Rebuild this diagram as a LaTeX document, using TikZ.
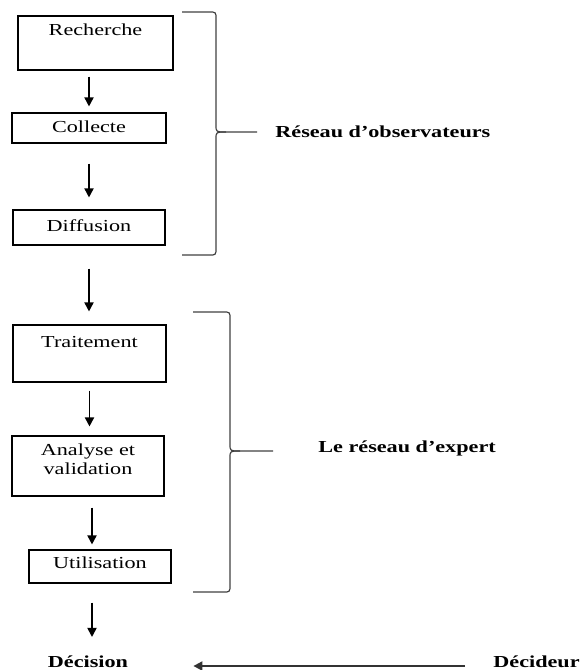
\documentclass[tikz,border=0pt]{standalone}
\usepackage{fontspec}
\setmainfont{Liberation Serif}[FakeStretch=1.32]
\usetikzlibrary{arrows.meta}
\newcommand{\sidebrace}[6]{%
  \draw[brc] (#1,#4) -- ({#2-7},#4) .. controls (#2,#4) .. (#2,{#4+7})
    -- (#2,{#5-7}) .. controls (#2,#5) .. ({#2+10},#5) -- (#3,#5);
  \draw[brc] (#1,#6) -- ({#2-7},#6) .. controls (#2,#6) .. (#2,{#6-7})
    -- (#2,{#5+7}) .. controls (#2,#5) .. ({#2+10},#5);}

\begin{document}
\begin{tikzpicture}[x=0.5pt,y=-0.5pt,
    font=\fontsize{8.4}{9.5}\selectfont,
    box/.style={draw,line width=0.6pt,align=center,text height=6pt,inner sep=0pt},
    lbl/.style={font=\fontsize{8.4}{9.5}\selectfont\bfseries,inner sep=1pt},
    arr/.style={-{Triangle[length=4.5pt,width=4.6pt]},line width=0.6pt},
    brc/.style={line width=0.6pt,draw=black!75}]
  \useasboundingbox (0,0) rectangle (581,670);
  \node[box,minimum width=77.5pt,minimum height=27pt,text depth=14pt] (rech) at (95.5,43) {Recherche};
  \node[box,minimum width=77pt,minimum height=15pt,text depth=2pt] (coll) at (89,128) {Collecte};
  \node[box,minimum width=76pt,minimum height=17.5pt,text depth=2.5pt] (diff) at (89,227.5) {Diffusion};
  \node[box,minimum width=76.5pt,minimum height=28.5pt,text depth=12.5pt] (trait) at (89.5,353.5) {Traitement};
  \node[box,minimum width=76pt,minimum height=30pt,text height=8pt,text depth=0pt] (anal) at (88,466) {Analyse et\\validation};
  \node[box,minimum width=71pt,minimum height=16.5pt,text depth=4.5pt] (util) at (100,566.5) {Utilisation};
  \node[lbl,anchor=base] (dec) at (88,667) {Décision};
  \node[lbl,anchor=base west] (decid) at (491,667) {Décideur};
  \node[lbl,anchor=base west] (obs) at (273,137) {Réseau d’observateurs};
  \node[lbl,anchor=base west] (expert) at (316,452) {Le réseau d’expert};
  \draw[arr,shorten <=3pt,shorten >=3pt] (rech.south -| coll.north) -- (coll.north);
  \draw[arr,shorten <=10pt,shorten >=6pt] (coll.south) -- (coll.south |- diff.north);
  \draw[arr,shorten <=11.5pt,shorten >=6.5pt] (diff.south) -- (diff.south |- trait.north);
  \draw[arr,shorten <=4pt,shorten >=4.5pt] (trait.south) -- (trait.south |- anal.north);
  \draw[arr,shorten <=5.5pt,shorten >=2.5pt] ([xshift=2pt]anal.south) -- ([xshift=2pt]anal.south |- util.north);
  \draw[arr,shorten <=9.5pt,shorten >=8pt] ([xshift=-4pt]util.south) -- ([xshift=-4pt]util.south |- dec.north);
  \draw[arr,line width=0.8pt,draw=black!80,shorten <=13pt,shorten >=31.5pt]
    ([yshift=0.5pt]decid.base west) -- ([yshift=0.5pt]dec.base east);
  \sidebrace{182}{216}{257}{12}{132}{255}
  \sidebrace{193}{230}{273}{312}{451}{592}
\end{tikzpicture}
\end{document}
